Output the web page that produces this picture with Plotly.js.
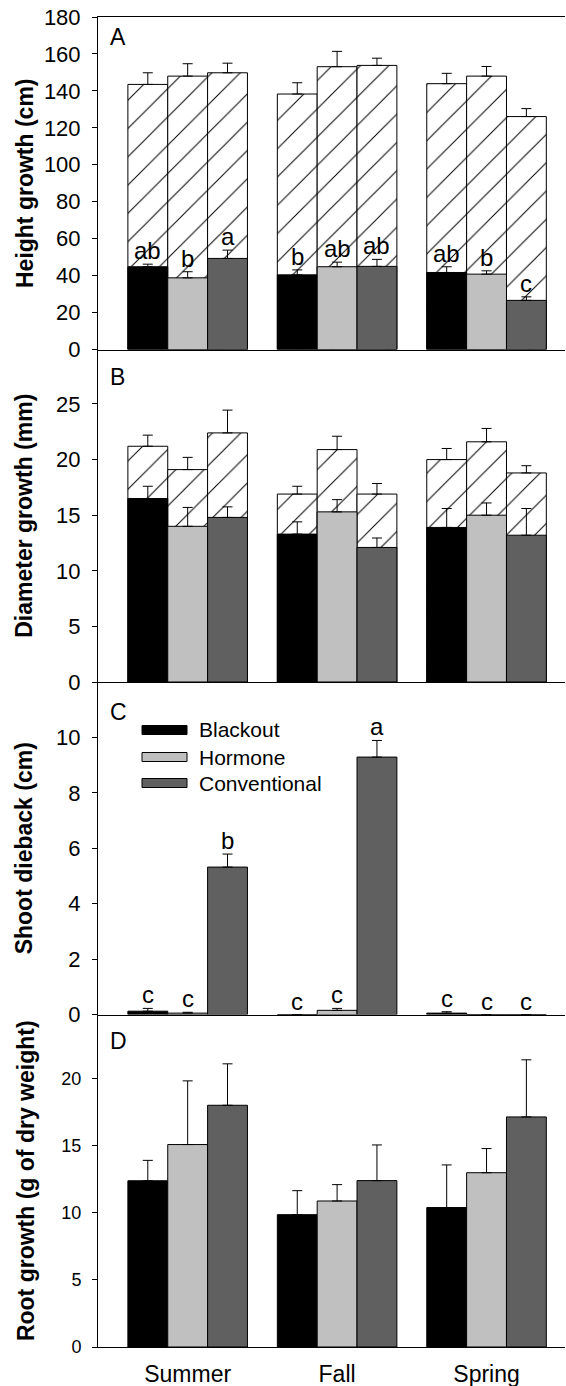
<!DOCTYPE html>
<html>
<head>
<meta charset="utf-8">
<script src="https://cdn.plot.ly/plotly-3.0.1.min.js"></script>
<style>html,body{margin:0;padding:0;background:#fff;}#chart{width:566px;height:1386px;}</style>
</head>
<body>
<div id="chart"></div>
<script>
// ---------- data ----------
const seasons = ['Summer', 'Fall', 'Spring'];
const treatments = ['Blackout', 'Hormone', 'Conventional'];

// Panel A: height growth (cm) — total (hatched) and lower part (solid)
const heightTotalBlackout = [143.5, 138.3, 143.9];
const heightTotalBlackoutErr = [6.3, 6.1, 5.6];
const heightTotalHormone = [148.0, 153.1, 148.0];
const heightTotalHormoneErr = [6.7, 8.3, 5.2];
const heightTotalConventional = [149.8, 153.8, 126.1];
const heightTotalConventionalErr = [5.2, 3.9, 4.3];
const heightSolidBlackout = [44.8, 40.4, 41.7];
const heightSolidBlackoutErr = [1.4, 2.7, 3.1];
const heightSolidHormone = [38.8, 44.8, 40.8];
const heightSolidHormoneErr = [3.3, 2.5, 1.8];
const heightSolidConventional = [49.3, 45.0, 26.6];
const heightSolidConventionalErr = [4.5, 3.8, 1.9];
const lettersABlackout = ['ab', 'b', 'ab'];
const lettersAHormone = ['b', 'ab', 'b'];
const lettersAConventional = ['a', 'ab', 'c'];

// Panel B: diameter growth (mm)
const diamTotalBlackout = [21.2, 16.9, 20.0];
const diamTotalBlackoutErr = [1.0, 0.7, 1.0];
const diamTotalHormone = [19.1, 20.9, 21.6];
const diamTotalHormoneErr = [1.1, 1.2, 1.2];
const diamTotalConventional = [22.4, 16.9, 18.8];
const diamTotalConventionalErr = [2.05, 0.95, 0.65];
const diamSolidBlackout = [16.5, 13.3, 13.9];
const diamSolidBlackoutErr = [1.1, 1.1, 1.7];
const diamSolidHormone = [14.0, 15.3, 15.0];
const diamSolidHormoneErr = [1.7, 1.1, 1.1];
const diamSolidConventional = [14.8, 12.1, 13.2];
const diamSolidConventionalErr = [0.95, 0.85, 2.4];

// Panel C: shoot dieback (cm)
const diebackBlackout = [0.12, 0, 0.05];
const diebackBlackoutErr = [0.1, 0, 0.05];
const diebackHormone = [0.05, 0.15, 0];
const diebackHormoneErr = [0.03, 0.07, 0];
const diebackConventional = [5.32, 9.29, 0];
const diebackConventionalErr = [0.47, 0.6, 0];
const lettersCBlackout = ['c', 'c', 'c'];
const lettersCHormone = ['c', 'c', 'c'];
const lettersCConventional = ['b', 'a', 'c'];

// Panel D: root growth (g of dry weight)
const rootBlackout = [12.4, 9.87, 10.4];
const rootBlackoutErr = [1.52, 1.79, 3.18];
const rootHormone = [15.1, 10.89, 13.0];
const rootHormoneErr = [4.75, 1.22, 1.8];
const rootConventional = [18.03, 12.41, 17.16];
const rootConventionalErr = [3.09, 2.66, 4.26];

// ---------- styling ----------
const FONT = 'Liberation Sans, Arial, Helvetica, sans-serif';
const colors = ['#000000', '#c0c0c0', '#606060'];
const barW = 0.8 / 3;
const offsets = [-0.4, -0.4 + barW, -0.4 + 2 * barW];
const xIdx = seasons.map((s, i) => i);
const W = 566, H = 1386, ML = 98, MR = 1, MT = 17, MB = 39;
const PW = W - ML - MR, PH = H - MT - MB;
const px2paperX = p => (p - ML) / PW;
const px2paperY = p => 1 - (p - MT) / PH;

function errSpec(arr) {
  return {type: 'data', array: arr, arrayminus: arr.map(() => 0), symmetric: false,
          color: '#000', thickness: 1, width: 5};
}
function hatched(y, err, ti, xa, ya) {
  return {type: 'bar', x: xIdx, y: y, offset: offsets[ti], width: barW,
    xaxis: xa, yaxis: ya, name: treatments[ti] + ' total', showlegend: false,
    marker: {color: '#ffffff', line: {color: '#000', width: 1},
      pattern: {shape: '/', fgcolor: '#000', bgcolor: '#ffffff', size: 20, solidity: 0.05}},
    error_y: errSpec(err), hoverinfo: 'y'};
}
function solid(y, err, ti, xa, ya) {
  return {type: 'bar', x: xIdx, y: y, offset: offsets[ti], width: barW,
    xaxis: xa, yaxis: ya, name: treatments[ti], showlegend: false,
    marker: {color: colors[ti], line: {color: '#000', width: 1}},
    error_y: errSpec(err), hoverinfo: 'y'};
}

const data = [
  hatched(heightTotalBlackout, heightTotalBlackoutErr, 0, 'x', 'y'),
  hatched(heightTotalHormone, heightTotalHormoneErr, 1, 'x', 'y'),
  hatched(heightTotalConventional, heightTotalConventionalErr, 2, 'x', 'y'),
  solid(heightSolidBlackout, heightSolidBlackoutErr, 0, 'x', 'y'),
  solid(heightSolidHormone, heightSolidHormoneErr, 1, 'x', 'y'),
  solid(heightSolidConventional, heightSolidConventionalErr, 2, 'x', 'y'),

  hatched(diamTotalBlackout, diamTotalBlackoutErr, 0, 'x2', 'y2'),
  hatched(diamTotalHormone, diamTotalHormoneErr, 1, 'x2', 'y2'),
  hatched(diamTotalConventional, diamTotalConventionalErr, 2, 'x2', 'y2'),
  solid(diamSolidBlackout, diamSolidBlackoutErr, 0, 'x2', 'y2'),
  solid(diamSolidHormone, diamSolidHormoneErr, 1, 'x2', 'y2'),
  solid(diamSolidConventional, diamSolidConventionalErr, 2, 'x2', 'y2'),

  solid(diebackBlackout, diebackBlackoutErr, 0, 'x3', 'y3'),
  solid(diebackHormone, diebackHormoneErr, 1, 'x3', 'y3'),
  solid(diebackConventional, diebackConventionalErr, 2, 'x3', 'y3'),

  solid(rootBlackout, rootBlackoutErr, 0, 'x4', 'y4'),
  solid(rootHormone, rootHormoneErr, 1, 'x4', 'y4'),
  solid(rootConventional, rootConventionalErr, 2, 'x4', 'y4')
];

// ---------- annotations ----------
const annotations = [];
function letters(labels, vals, errs, ti, xa, ya) {
  labels.forEach((t, i) => {
    annotations.push({x: i + offsets[ti] + barW / 2, y: vals[i] + errs[i], xref: xa, yref: ya,
      text: t, showarrow: false, xanchor: 'center', yanchor: 'bottom', yshift: -2,
      font: {family: FONT, size: 24, color: '#000'}});
  });
}
letters(lettersABlackout, heightSolidBlackout, heightSolidBlackoutErr, 0, 'x', 'y');
letters(lettersAHormone, heightSolidHormone, heightSolidHormoneErr, 1, 'x', 'y');
letters(lettersAConventional, heightSolidConventional, heightSolidConventionalErr, 2, 'x', 'y');
letters(lettersCBlackout, diebackBlackout, diebackBlackoutErr, 0, 'x3', 'y3');
letters(lettersCHormone, diebackHormone, diebackHormoneErr, 1, 'x3', 'y3');
letters(lettersCConventional, diebackConventional, diebackConventionalErr, 2, 'x3', 'y3');

const panelLabels = [['A', 22], ['B', 362], ['C', 697], ['D', 1026]];
panelLabels.forEach(([t, top]) => {
  annotations.push({x: px2paperX(108), y: px2paperY(top), xref: 'paper', yref: 'paper',
    text: t, showarrow: false, xanchor: 'left', yanchor: 'top',
    font: {family: FONT, size: 23, color: '#000'}});
});

// manual legend (panel C)
const shapes = [];
const legendRows = [730, 757, 783];
treatments.forEach((t, i) => {
  const cy = legendRows[i];
  shapes.push({type: 'rect', xref: 'paper', yref: 'paper',
    x0: px2paperX(142), x1: px2paperX(187), y0: px2paperY(cy + 4.5), y1: px2paperY(cy - 4.5),
    fillcolor: colors[i], line: {color: '#000', width: 1}});
  annotations.push({x: px2paperX(197), y: px2paperY(cy), xref: 'paper', yref: 'paper',
    text: t, showarrow: false, xanchor: 'left', yanchor: 'middle',
    font: {family: FONT, size: 21, color: '#000'}});
});

// ---------- axes ----------
const xBase = {range: [-0.6, 2.525], showline: true, linecolor: '#000', linewidth: 1,
  ticks: '', showgrid: false, zeroline: false, fixedrange: true};
function yAxis(domain, range, tickvals, title, fs, standoff) {
  return {domain: domain, range: range, tickvals: tickvals, showline: true, linecolor: '#000',
    linewidth: 1, ticks: 'outside', ticklen: 5, tickwidth: 1, tickcolor: '#000',
    showgrid: false, zeroline: false, fixedrange: true, ticklabelstandoff: 7,
    tickfont: {family: FONT, size: fs, color: '#000'},
    title: {text: title, standoff: standoff, font: {family: FONT, size: 23, color: '#000', weight: 'bold'}}};
}

const layout = {
  width: W, height: H, margin: {l: ML, r: MR, t: MT, b: MB},
  paper_bgcolor: '#fff', plot_bgcolor: '#fff', barmode: 'overlay', showlegend: false,
  font: {family: FONT, color: '#000'},
  xaxis: Object.assign({}, xBase, {anchor: 'y', mirror: true, showticklabels: false}),
  xaxis2: Object.assign({}, xBase, {anchor: 'y2', matches: 'x', showticklabels: false}),
  xaxis3: Object.assign({}, xBase, {anchor: 'y3', matches: 'x', showticklabels: false}),
  xaxis4: Object.assign({}, xBase, {anchor: 'y4', matches: 'x', tickvals: xIdx, ticktext: seasons,
    ticklabelstandoff: 6, tickfont: {family: FONT, size: 23, color: '#000'}}),
  yaxis: yAxis([0.75, 1], [0, 180], [0, 20, 40, 60, 80, 100, 120, 140, 160, 180], 'Height growth (cm)', 22, 3),
  yaxis2: yAxis([0.5, 0.75], [0, 29.9], [0, 5, 10, 15, 20, 25], 'Diameter growth (mm)', 22, 17),
  yaxis3: yAxis([0.25, 0.5], [0, 12], [0, 2, 4, 6, 8, 10], 'Shoot dieback (cm)', 22, 17),
  yaxis4: yAxis([0, 0.25], [0, 24.8], [0, 5, 10, 15, 20], 'Root growth (g of dry weight)', 18, 20),
  annotations: annotations,
  shapes: shapes
};

Plotly.newPlot('chart', data, layout, {staticPlot: true, displayModeBar: false});
</script>
</body>
</html>
